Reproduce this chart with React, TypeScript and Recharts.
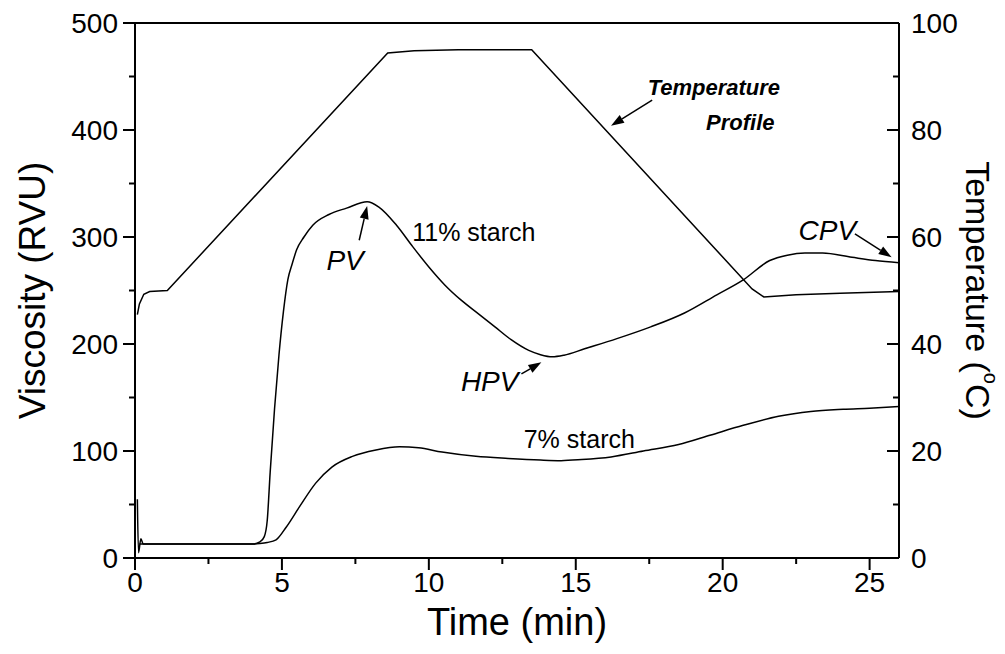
import React from "react";
import {
  ComposedChart,
  Line,
  XAxis,
  YAxis,
  ReferenceDot,
  ReferenceLine,
} from "recharts";

// temperature programme (°C, right axis)
const tempTime = [0.08, 0.15, 0.3, 0.5, 1.1, 8.6, 9.5, 11, 13.5, 21.0, 21.4, 22.5, 24, 26];
const tempValue = [45.5, 47.5, 49.3, 49.8, 50, 94.4, 94.8, 95, 95, 50.3, 48.8, 49.2, 49.5, 49.8];

// 11% starch viscosity (RVU)
const starch11Time = [
  0.08, 0.12, 0.2, 0.28, 1, 2, 3, 4, 4.25, 4.4, 4.5, 4.6, 4.75, 4.9, 5.05, 5.2,
  5.35, 5.5, 5.75, 6.05, 6.6, 7.2, 7.9, 8.3, 8.9, 9.45, 10, 10.55, 11.1, 11.7,
  12.25, 12.8, 13.4, 13.8, 14.2, 14.6, 15.3, 16.4, 17.55, 18.7, 19.8, 20.7, 21.6,
  22.2, 22.8, 23.4, 24.4, 25.2, 26,
];
const starch11Value = [
  55, 5, 18, 13, 13, 13, 13, 13, 15, 20, 35, 80, 140, 190, 230, 260, 275, 288,
  300, 311, 321, 327, 333, 328, 311, 291, 272, 255, 241, 228, 216, 204, 194, 190,
  188, 189.5, 195.5, 205, 216, 229, 246, 260, 278, 283, 285, 285, 281, 278, 276,
];

// 7% starch viscosity (RVU)
const starch7Time = [
  0.15, 1, 2, 3, 4, 4.25, 4.5, 4.8, 5.15, 5.6, 6.15, 6.7, 7.4, 8.2, 9.0, 9.65,
  10.45, 11.6, 12.7, 13.8, 14.5, 15.2, 16.2, 17.3, 18.5, 19.6, 20.7, 21.9, 23.0,
  24.1, 25.0, 26,
];
const starch7Value = [
  13, 13, 13, 13, 13, 13.5, 14.5, 17, 29, 48, 70, 85, 95, 101, 104, 103, 99, 95,
  93, 91.5, 91, 92, 94.5, 100, 106, 115, 124, 132.5, 137, 139, 140, 141.5,
];

const timeTicks = [0, 2.5, 5, 7.5, 10, 12.5, 15, 17.5, 20, 22.5, 25];
const viscTicks = [0, 50, 100, 150, 200, 250, 300, 350, 400, 450, 500];
const tempTicks = [0, 10, 20, 30, 40, 50, 60, 70, 80, 90, 100];

const FONT = "'Liberation Sans', Arial, sans-serif";

const zip = (ts: number[], vs: number[]) => ts.map((t, i) => ({ t, v: vs[i] }));
const tempData = zip(tempTime, tempValue);
const s11Data = zip(starch11Time, starch11Value);
const s7Data = zip(starch7Time, starch7Value);

const LeftTick = ({ x, y, payload }: any) => {
  const v = payload.value;
  const major = v % 100 === 0;
  return (
    <g>
      <line x1={x} y1={y} x2={x - (major ? 12 : 6)} y2={y} stroke="#000" strokeWidth={2} />
      {major && (
        <text x={x - 17} y={y} textAnchor="end" dominantBaseline="central" fontSize={28} fontFamily={FONT} fill="#000">
          {v}
        </text>
      )}
    </g>
  );
};

const RightTick = ({ x, y, payload }: any) => {
  const v = payload.value;
  const major = v % 20 === 0;
  return (
    <g>
      <line x1={x} y1={y} x2={x - (major ? 12 : 6)} y2={y} stroke="#000" strokeWidth={2} />
      {major && (
        <text x={x + 12} y={y} textAnchor="start" dominantBaseline="central" fontSize={28} fontFamily={FONT} fill="#000">
          {v}
        </text>
      )}
    </g>
  );
};

const BottomTick = ({ x, y, payload }: any) => {
  const v = payload.value;
  const major = v % 5 === 0;
  return (
    <g>
      <line x1={x} y1={y} x2={x} y2={y + (major ? 12 : 6)} stroke="#000" strokeWidth={2} />
      {major && (
        <text x={x} y={y + 34} textAnchor="middle" fontSize={28} fontFamily={FONT} fill="#000">
          {v}
        </text>
      )}
    </g>
  );
};

const TopTick = ({ x, y, payload }: any) => {
  const major = payload.value % 5 === 0;
  return <line x1={x} y1={y} x2={x} y2={y + (major ? 11 : 6)} stroke="#000" strokeWidth={2} />;
};

const Arrow = (p: any) => {
  const { x1, y1, x2, y2 } = p;
  const a = Math.atan2(y2 - y1, x2 - x1);
  const L = 13;
  const W = 4.5;
  const bx = x2 - L * Math.cos(a);
  const by = y2 - L * Math.sin(a);
  const px = -Math.sin(a) * W;
  const py = Math.cos(a) * W;
  return (
    <g>
      <line x1={x1} y1={y1} x2={bx} y2={by} stroke="#000" strokeWidth={1.5} />
      <polygon points={`${x2},${y2} ${bx + px},${by + py} ${bx - px},${by - py}`} fill="#000" />
    </g>
  );
};

const note = (text: string, size: number, style: "normal" | "italic", weight = "normal") =>
  (p: any) => (
    <text
      x={p.cx}
      y={p.cy}
      textAnchor="middle"
      dominantBaseline="central"
      fontSize={size}
      fontStyle={style}
      fontWeight={weight}
      fontFamily={FONT}
      fill="#000"
    >
      {text}
    </text>
  );

export default function App() {
  return (
    <div style={{ position: "absolute", left: 0, top: 0, background: "#fff" }}>
      <ComposedChart width={1005} height={654} margin={{ top: 13, right: 26, bottom: 36, left: 35 }}>
        <XAxis
          xAxisId="bottom"
          dataKey="t"
          type="number"
          domain={[0, 26]}
          ticks={timeTicks}
          interval={0}
          allowDataOverflow
          height={60}
          tickSize={0}
          tickMargin={0}
          tick={<BottomTick />}
          axisLine={{ stroke: "#000", strokeWidth: 2 }}
          label={(props: any) => {
            const vb = props.viewBox;
            return (
              <text x={vb.x + vb.width / 2} y={vb.y + 77} textAnchor="middle" fontSize={38} fontFamily={FONT} fill="#000">
                Time (min)
              </text>
            );
          }}
        />
        <XAxis
          xAxisId="top"
          orientation="top"
          type="number"
          domain={[0, 26]}
          ticks={timeTicks}
          interval={0}
          allowDataOverflow
          height={10}
          tickSize={0}
          tickMargin={0}
          tick={<TopTick />}
          axisLine={{ stroke: "#000", strokeWidth: 2 }}
        />
        <YAxis
          yAxisId="left"
          type="number"
          domain={[0, 500]}
          ticks={viscTicks}
          interval={0}
          width={100}
          tickSize={0}
          tickMargin={0}
          tick={<LeftTick />}
          axisLine={{ stroke: "#000", strokeWidth: 2 }}
          label={(props: any) => {
            const vb = props.viewBox;
            const cx = vb.x - 3;
            const cy = vb.y + vb.height / 2;
            return (
              <text x={cx} y={cy} transform={`rotate(-90, ${cx}, ${cy})`} textAnchor="middle" dominantBaseline="central" fontSize={37} fontFamily={FONT} fill="#000">
                Viscosity (RVU)
              </text>
            );
          }}
        />
        <YAxis
          yAxisId="right"
          orientation="right"
          type="number"
          domain={[0, 100]}
          ticks={tempTicks}
          interval={0}
          width={80}
          tickSize={0}
          tickMargin={0}
          tick={<RightTick />}
          axisLine={{ stroke: "#000", strokeWidth: 2 }}
          label={(props: any) => {
            const vb = props.viewBox;
            const cx = vb.x + 79;
            const cy = vb.y + vb.height / 2;
            return (
              <text x={cx} y={cy} transform={`rotate(90, ${cx}, ${cy})`} textAnchor="middle" dominantBaseline="central" fontSize={34} fontFamily={FONT} fill="#000">
                Temperature (
                <tspan fontSize={20} dy={-13}>o</tspan>
                <tspan dy={13}>C)</tspan>
              </text>
            );
          }}
        />

        <Line xAxisId="bottom" yAxisId="right" data={tempData} dataKey="v" type="linear" stroke="#000" strokeWidth={1.5} dot={false} isAnimationActive={false} />
        <Line xAxisId="bottom" yAxisId="left" data={s11Data} dataKey="v" type="monotone" stroke="#000" strokeWidth={1.5} dot={false} isAnimationActive={false} />
        <Line xAxisId="bottom" yAxisId="left" data={s7Data} dataKey="v" type="monotone" stroke="#000" strokeWidth={1.5} dot={false} isAnimationActive={false} />

        <ReferenceDot xAxisId="bottom" yAxisId="left" x={19.7} y={440} r={0} shape={note("Temperature", 22, "italic", "bold")} />
        <ReferenceDot xAxisId="bottom" yAxisId="left" x={20.6} y={407} r={0} shape={note("Profile", 22, "italic", "bold")} />
        <ReferenceLine xAxisId="bottom" yAxisId="left" segment={[{ x: 17.6, y: 428 }, { x: 16.2, y: 404 }]} shape={Arrow} />

        <ReferenceDot xAxisId="bottom" yAxisId="left" x={11.53} y={305} r={0} shape={note("11% starch", 25, "normal")} />
        <ReferenceDot xAxisId="bottom" yAxisId="left" x={7.15} y={278} r={0} shape={note("PV", 28, "italic")} />
        <ReferenceLine xAxisId="bottom" yAxisId="left" segment={[{ x: 7.63, y: 297 }, { x: 7.9, y: 329 }]} shape={Arrow} />

        <ReferenceDot xAxisId="bottom" yAxisId="left" x={12.07} y={165} r={0} shape={note("HPV", 28, "italic")} />
        <ReferenceLine xAxisId="bottom" yAxisId="left" segment={[{ x: 13.15, y: 172 }, { x: 13.83, y: 183 }]} shape={Arrow} />

        <ReferenceDot xAxisId="bottom" yAxisId="left" x={23.56} y={306} r={0} shape={note("CPV", 28, "italic")} />
        <ReferenceLine xAxisId="bottom" yAxisId="left" segment={[{ x: 24.5, y: 303 }, { x: 25.75, y: 281 }]} shape={Arrow} />

        <ReferenceDot xAxisId="bottom" yAxisId="left" x={15.12} y={111} r={0} shape={note("7% starch", 25, "normal")} />
      </ComposedChart>
    </div>
  );
}
